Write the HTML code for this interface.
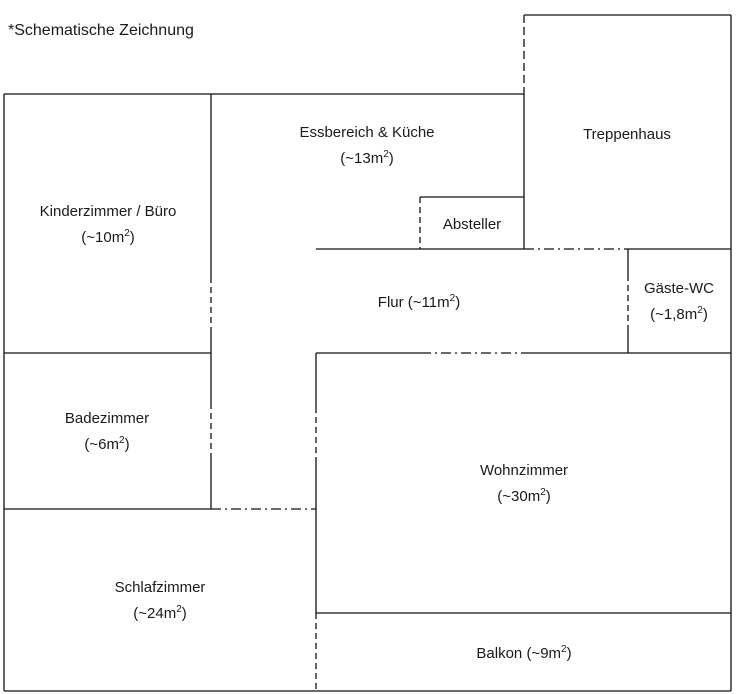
<!DOCTYPE html>
<html><head><meta charset="utf-8"><style>
html,body{margin:0;padding:0;background:#fff;}
svg{display:block;}
text{font-family:"Liberation Sans",sans-serif;font-size:15px;fill:#1a1a1a;}
.s{font-size:10px;}
</style></head><body>
<svg width="738" height="694" viewBox="0 0 738 694" xmlns="http://www.w3.org/2000/svg">
<g stroke="#111" stroke-width="1.3" fill="none">
<line x1="4" y1="94" x2="524" y2="94"/>
<line x1="4" y1="94" x2="4" y2="691"/>
<line x1="4" y1="691" x2="731" y2="691"/>
<line x1="731" y1="15" x2="731" y2="691"/>
<line x1="524" y1="15" x2="731" y2="15"/>
<line x1="524" y1="94" x2="524" y2="249"/>
<line x1="524" y1="15" x2="524" y2="94" stroke-dasharray="8,4"/>
<line x1="211" y1="94" x2="211" y2="277"/>
<line x1="211" y1="277" x2="211" y2="333" stroke-dasharray="6,4"/>
<line x1="211" y1="333" x2="211" y2="403"/>
<line x1="211" y1="403" x2="211" y2="457" stroke-dasharray="6,4"/>
<line x1="211" y1="457" x2="211" y2="509"/>
<line x1="4" y1="353" x2="211" y2="353"/>
<line x1="4" y1="509" x2="211" y2="509"/>
<line x1="211" y1="509" x2="316" y2="509" stroke-dasharray="10,4,2,4"/>
<line x1="420" y1="197" x2="524" y2="197"/>
<line x1="420" y1="197" x2="420" y2="249" stroke-dasharray="6,4"/>
<line x1="316" y1="249" x2="524" y2="249"/>
<line x1="524" y1="249" x2="628" y2="249" stroke-dasharray="10,4,2,4"/>
<line x1="628" y1="249" x2="731" y2="249"/>
<line x1="628" y1="249" x2="628" y2="275"/>
<line x1="628" y1="275" x2="628" y2="330" stroke-dasharray="6,4"/>
<line x1="628" y1="330" x2="628" y2="353"/>
<line x1="316" y1="353" x2="421" y2="353"/>
<line x1="421" y1="353" x2="521" y2="353" stroke-dasharray="10,4,2,4"/>
<line x1="521" y1="353" x2="731" y2="353"/>
<line x1="316" y1="353" x2="316" y2="407"/>
<line x1="316" y1="407" x2="316" y2="460" stroke-dasharray="6,4"/>
<line x1="316" y1="460" x2="316" y2="613"/>
<line x1="316" y1="613" x2="316" y2="691" stroke-dasharray="6,4"/>
<line x1="316" y1="613" x2="731" y2="613"/>
</g>
<text x="8" y="35" style="font-size:16px">*Schematische Zeichnung</text>
<g text-anchor="middle">
<text x="367" y="137">Essbereich &amp; Küche</text>
<text x="367" y="163">(~13m<tspan class="s" dy="-6">2</tspan><tspan dy="6">)</tspan></text>
<text x="627" y="139">Treppenhaus</text>
<text x="108" y="216">Kinderzimmer / Büro</text>
<text x="108" y="242">(~10m<tspan class="s" dy="-6">2</tspan><tspan dy="6">)</tspan></text>
<text x="472" y="229">Absteller</text>
<text x="419" y="307">Flur (~11m<tspan class="s" dy="-6">2</tspan><tspan dy="6">)</tspan></text>
<text x="679" y="293">Gäste-WC</text>
<text x="679" y="319">(~1,8m<tspan class="s" dy="-6">2</tspan><tspan dy="6">)</tspan></text>
<text x="107" y="423">Badezimmer</text>
<text x="107" y="449">(~6m<tspan class="s" dy="-6">2</tspan><tspan dy="6">)</tspan></text>
<text x="524" y="475">Wohnzimmer</text>
<text x="524" y="501">(~30m<tspan class="s" dy="-6">2</tspan><tspan dy="6">)</tspan></text>
<text x="160" y="592">Schlafzimmer</text>
<text x="160" y="618">(~24m<tspan class="s" dy="-6">2</tspan><tspan dy="6">)</tspan></text>
<text x="524" y="658">Balkon (~9m<tspan class="s" dy="-6">2</tspan><tspan dy="6">)</tspan></text>
</g>
</svg>
</body></html>
